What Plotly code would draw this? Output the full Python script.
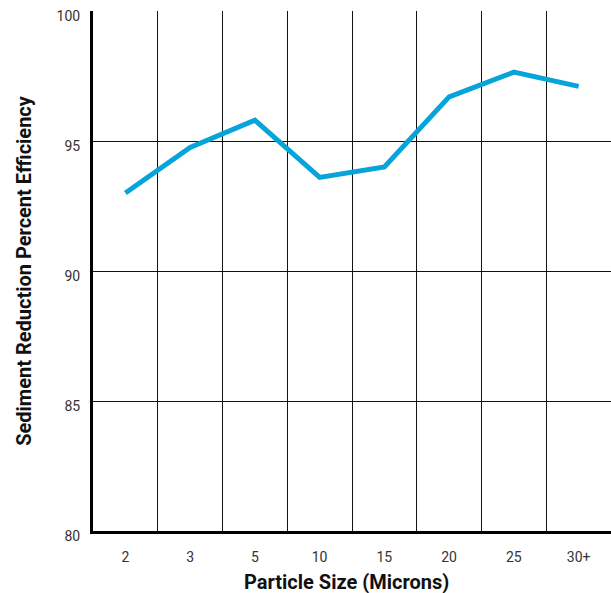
import plotly.graph_objects as go

categories = ["2", "3", "5", "10", "15", "20", "25", "30+"]
efficiency = [93.0, 94.75, 95.8, 93.6, 94.0, 96.7, 97.65, 97.1]
y_ticks = [80, 85, 90, 95, 100]

fig = go.Figure()
fig.add_trace(go.Scatter(
    x=categories, y=efficiency, mode="lines",
    line=dict(color="#07a4d9", width=5),
    hoverinfo="skip", showlegend=False,
))

fig.update_layout(
    width=611, height=593,
    margin=dict(l=93, r=0, t=11, b=62),
    paper_bgcolor="white", plot_bgcolor="white",
    font=dict(family="Roboto, sans-serif", color="#222"),
    xaxis=dict(
        type="category", tickson="boundaries", automargin=False,
        showgrid=True, gridcolor="#111", gridwidth=1.4,
        showline=True, linecolor="#000", linewidth=3,
        ticks="", tickfont=dict(size=14, color="#333"),
        ticklabelstandoff=11,
        range=[-0.5, 7.5],
    ),
    yaxis=dict(
        range=[80, 100], tickvals=y_ticks, automargin=False,
        showgrid=True, gridcolor="#111", gridwidth=1.4,
        showline=True, linecolor="#000", linewidth=3,
        zeroline=False,
        ticks="", tickfont=dict(size=14, color="#333"),
        ticklabelshift=5, ticklabelstandoff=7,
        title=dict(text="<b>Sediment Reduction Percent Efficiency</b>", font=dict(size=20, color="#111"), standoff=20),
    ),
    annotations=[dict(
        text="<b>Particle Size (Microns)</b>", font=dict(size=20, color="#111"),
        xref="paper", yref="paper", x=0.49, y=0, xanchor="center", yanchor="middle",
        yshift=-51, showarrow=False,
    )],
)

fig.write_html(
    "out.html",
    config={"displayModeBar": False},
    post_script="document.body.style.margin='0';document.body.style.overflow='hidden';",
)
